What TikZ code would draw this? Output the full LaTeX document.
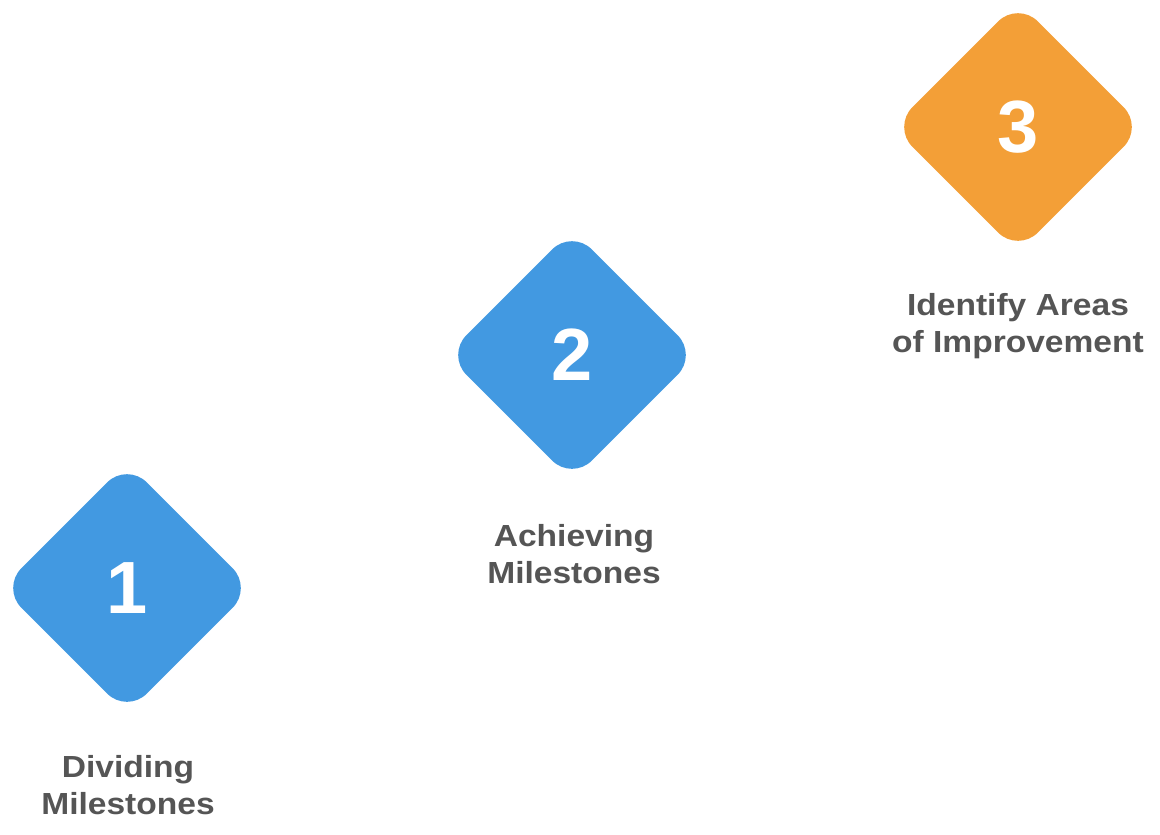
\documentclass[tikz,border=0pt]{standalone}
\usepackage{fontspec}
\setmainfont{Liberation Sans}
\newfontfamily\capfont{Liberation Sans}[FakeStretch=1.1]
\usetikzlibrary{shapes.geometric}
\definecolor{stepblue}{HTML}{4299E1}
\definecolor{steporange}{HTML}{F39F37}
\definecolor{labelgray}{HTML}{555555}
\tikzset{
  gem/.style={diamond, aspect=1, inner sep=0pt, minimum width=251pt, minimum height=251pt, rounded corners=28pt,
    text=white, font=\fontsize{74}{74}\selectfont\bfseries},
  caption/.style={align=center, text=labelgray, font=\capfont\fontsize{30.5}{37}\selectfont\bfseries}
}
\begin{document}
\begin{tikzpicture}[x=1pt,y=-1pt]
\useasboundingbox (0,0) rectangle (1160,835);
\node[gem, fill=stepblue] (d1) at (127,588) {1};
\node[gem, fill=stepblue] (d2) at (572,355) {2};
\node[gem, fill=steporange] (d3) at (1018,127) {3};
\node[caption] (t1) at (128,785.5) {Dividing\\Milestones};
\node[caption] (t2) at (574,554.5) {Achieving\\Milestones};
\node[caption] (t3) at (1018,326.5) {Identify Areas\\of Improvement};
\end{tikzpicture}
\end{document}
